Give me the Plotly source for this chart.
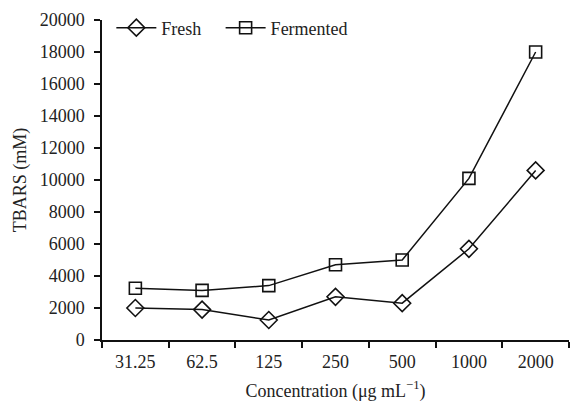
import plotly.graph_objects as go

concentrations = ["31.25", "62.5", "125", "250", "500", "1000", "2000"]
fresh = [2000, 1900, 1250, 2700, 2300, 5700, 10600]
fermented = [3230, 3100, 3400, 4700, 5000, 10100, 18000]
y_ticks = list(range(0, 20001, 2000))
y_labels = [str(v) for v in y_ticks]

FONT = "Liberation Serif, Times New Roman, serif"
TXT = "#222"
FS = 18

fig = go.Figure()
fig.add_trace(go.Scatter(
    x=concentrations, y=fresh, name="Fresh", mode="lines+markers",
    line=dict(color="#111", width=1.5),
    marker=dict(symbol="diamond-open", size=13, color="#111", line=dict(width=1.6)),
    legend="legend",
))
fig.add_trace(go.Scatter(
    x=concentrations, y=fermented, name="Fermented", mode="lines+markers",
    line=dict(color="#111", width=1.5),
    marker=dict(symbol="square-open", size=12, color="#111", line=dict(width=1.6)),
    legend="legend2",
))

legend_style = dict(orientation="h", yanchor="middle", y=0.975, xanchor="left",
                    font=dict(family=FONT, size=FS, color=TXT),
                    bgcolor="rgba(0,0,0,0)", itemwidth=40)

fig.update_layout(
    width=570, height=404,
    margin=dict(l=102, r=1, t=20, b=64),
    paper_bgcolor="white", plot_bgcolor="white",
    font=dict(family=FONT, size=FS, color=TXT),
    showlegend=True,
    legend=dict(x=0.02, **legend_style),
    legend2=dict(x=0.254, **legend_style),
    xaxis=dict(
        type="category", range=[-0.5, 6.5],
        showline=True, linecolor="#111", linewidth=1.5,
        ticks="outside", ticklen=6, tickwidth=1.5, tickcolor="#111",
        tickson="boundaries", showgrid=False, zeroline=False,
        ticklabelstandoff=5,
        tickfont=dict(family=FONT, size=FS, color=TXT),
        title=dict(text="Concentration (μg mL<sup>−1</sup>)",
                   font=dict(family=FONT, size=FS, color=TXT), standoff=13),
    ),
    yaxis=dict(
        range=[0, 20000], tickvals=y_ticks, ticktext=y_labels,
        showline=True, linecolor="#111", linewidth=1.5,
        ticks="outside", ticklen=6, tickwidth=1.5, tickcolor="#111",
        showgrid=False, zeroline=False,
        ticklabelstandoff=6,
        tickfont=dict(family=FONT, size=FS, color=TXT),
        title=dict(text="TBARS (mM)", font=dict(family=FONT, size=FS, color=TXT),
                   standoff=8),
    ),
)

fig.write_html("out.html")
